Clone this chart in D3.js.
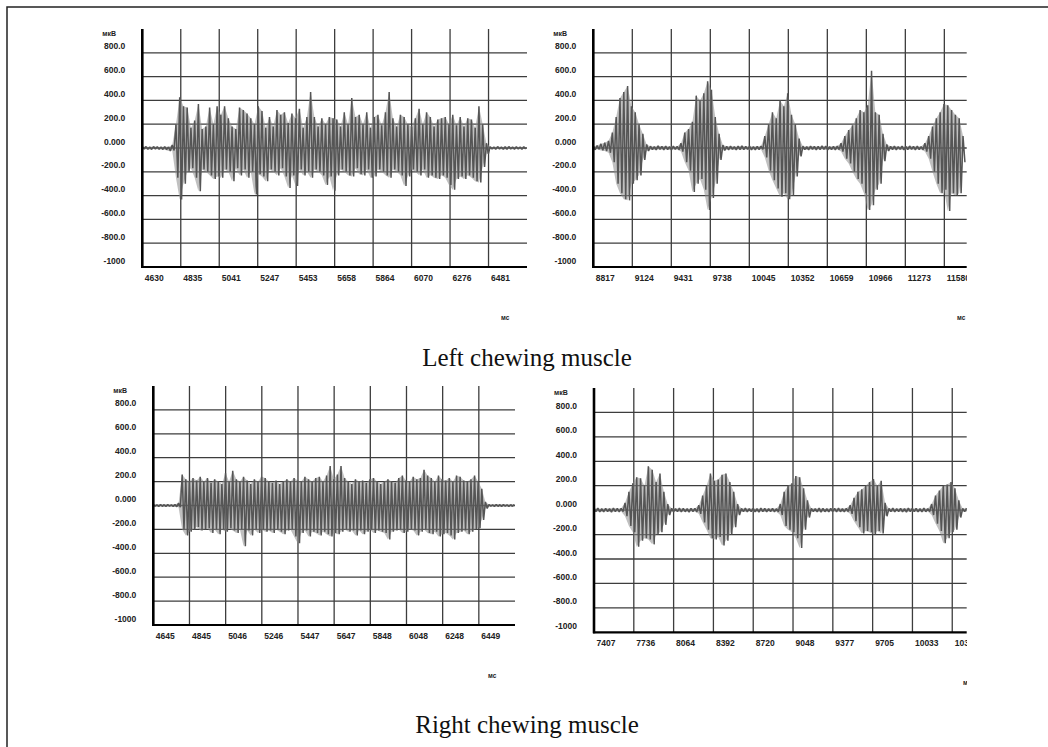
<!DOCTYPE html>
<html>
<head>
<meta charset="utf-8">
<script src="https://cdn.jsdelivr.net/npm/d3@7"></script>
<style>
  body { margin: 0; background: #fff; }
  svg { display: block; }
</style>
</head>
<body>
<svg id="chart" width="1048" height="747"></svg>
<script>
// ---- data ----
const yTicks = [-1000, -800, -600, -400, -200, 0, 200, 400, 600, 800];
const yLabels = ["-1000", "-800.0", "-600.0", "-400.0", "-200.0", "0.000", "200.0", "400.0", "600.0", "800.0"];
const yGrid = [-800, -600, -400, -200, 0, 200, 400, 600, 800];

// left muscle, continuous chewing
const p1Domain = [4630, 6687];
const p1Ticks = [4630, 4835.7, 5041.4, 5247.1, 5452.8, 5658.5, 5864.2, 6069.9, 6275.6, 6481.3];
const p1Labels = ["4630", "4835", "5041", "5247", "5453", "5658", "5864", "6070", "6276", "6481"];
const p1Start = 4630, p1Step = 20;
const p1Hi = [10,12,8,12,10,9,12,8, 25,
  200,427,350,340,170,230,370,160,180,340, 200,350,280,350,250,180,160,340,320,290,
  250,200,350,310,170,260,180,320,280,300, 210,290,250,330,170,260,470,260,180,250,
  200,260,250,240,180,300,200,420,260,280, 200,300,170,260,280,190,300,470,250,180,
  280,260,200,180,250,330,200,300,260,180, 240,250,260,200,280,190,260,180,250,240,
  170,350,200, 40, 10,8,12,9,10,12,8,10,9,11];
const p1Lo = [-8,-10,-12,-9,-10,-12,-14,-25, -20,
  -250,-432,-300,-200,-170,-250,-363,-180,-200,-230,-260,
  -240,-250,-180,-200,-280,-170,-230,-180,-250,-200,
  -390,-220,-240,-280,-180,-200,-230,-170,-240,-335,
  -230,-320,-180,-230,-200,-250,-180,-200,-230,-310,
  -240,-360,-230,-180,-200,-230,-240,-170,-220,-230,
  -180,-250,-240,-180,-200,-230,-250,-180,-200,-230,
  -320,-240,-180,-200,-230,-180,-250,-230,-250,-260,
  -230,-250,-310,-350,-260,-240,-260,-230,-250,-280,
  -290,-160, -50, -9,-11,-8,-10,-12,-9,-10,-8,-11,-9];

// left muscle, bursts
const p2Domain = [8817, 11756];
const p2Ticks = [8817, 9124, 9431, 9738, 10045, 10352, 10659, 10966, 11273, 11580];
const p2Labels = ["8817", "9124", "9431", "9738", "10045", "10352", "10659", "10966", "11273", "11580"];
const p2Start = 8817, p2Step = 30;
const p2Hi = [15,20,35,45,60, 130,260,420,470,520,350,300,200,120, 30,
  15,12,18,14,16,12,15,13, 40,130,160,220,440,400,460,560,490,260,120, 25,
  14,16,12,15,18,13,15,12,14,16, 100,200,300,250,400,350,460,280,200,80,
  15,12,16,14,13,17,15,12,14,16, 40,100,150,190,250,320,300,360,650,300,280,120, 30,
  14,16,12,15,13,17,14,15,12, 40,100,180,250,300,370,360,320,280,250,100,60];
const p2Lo = [-15,-10,-20,-25,-40, -120,-300,-380,-430,-440,-300,-270,-230,-100, -25,
  -14,-16,-12,-15,-13,-16,-12,-14, -30,-120,-190,-370,-300,-260,-350,-520,-420,-300,-100, -20,
  -15,-12,-16,-13,-14,-12,-16,-15,-13,-12, -80,-190,-270,-340,-410,-380,-430,-400,-240,-70,
  -14,-16,-12,-15,-13,-12,-16,-14,-15,-13, -30,-90,-130,-200,-260,-300,-380,-520,-480,-350,-300,-110, -25,
  -13,-15,-12,-16,-14,-12,-15,-13,-14, -30,-90,-200,-300,-380,-350,-530,-380,-400,-380,-120,-50];

// right muscle, continuous chewing
const p3Domain = [4645, 6649];
const p3Ticks = [4645, 4845.4, 5045.8, 5246.2, 5446.6, 5647, 5847.4, 6047.8, 6248.2, 6448.6];
const p3Labels = ["4645", "4845", "5046", "5246", "5447", "5647", "5848", "6048", "6248", "6449"];
const p3Start = 4645, p3Step = 20;
const p3Hi = [8,6,9,7,8,6,8, 20,
  260,220,200,230,210,240,200,230,190,220, 200,180,270,200,290,220,200,240,210,180,
  220,200,240,230,200,190,210,180,200,220, 200,230,210,200,240,220,200,230,240,200,
  250,330,220,260,330,230,200,180,220,200, 210,190,220,230,200,180,200,220,200,190,
  230,250,210,200,240,220,230,300,250,230, 200,250,220,210,230,200,250,240,210,200,
  220,250,200,140, 30, 8,6,9,7,8,6,7,8];
const p3Lo = [-6,-8,-7,-9,-6,-8,-10, -15,
  -200,-250,-220,-200,-180,-210,-200,-190,-230,-200, -240,-200,-220,-190,-210,-230,-200,-340,-210,-250,
  -200,-230,-200,-220,-210,-230,-200,-220,-240,-210, -200,-260,-315,-230,-210,-260,-220,-230,-250,-220,
  -240,-260,-230,-240,-220,-200,-220,-210,-250,-210, -240,-220,-200,-230,-210,-220,-230,-285,-220,-210,
  -200,-230,-220,-200,-210,-250,-220,-200,-230,-240, -220,-260,-240,-230,-250,-285,-230,-220,-210,-240,
  -220,-200,-190,-120, -25, -6,-8,-7,-9,-6,-8,-7,-6];

// right muscle, bursts
const p4Domain = [7407, 10480];
const p4Ticks = [7407, 7735.2, 8063.4, 8391.6, 8719.8, 9048, 9376.2, 9704.4, 10032.6, 10360.8];
const p4Labels = ["7407", "7736", "8064", "8392", "8720", "9048", "9377", "9705", "10033", "10361"];
const p4Start = 7407, p4Step = 32;
const p4Hi = [14,16,12,15,13,17,14,15, 60,150,220,270,260,200,360,330,230,300,150,50,
  15,13,16,14,12,15,14, 40,120,200,300,240,250,290,300,230,150,50,
  14,16,13,15,12,16,14,13,15,12, 50,150,200,220,280,270,180,80,
  15,13,16,14,12,15,14,16,13,15, 40,100,150,170,200,230,255,200,240,60,
  14,16,12,15,13,17,14,15,12,16,13, 50,120,160,200,210,230,180,80, 14,16];
const p4Lo = [-12,-14,-15,-12,-16,-13,-14,-12, -50,-130,-180,-300,-250,-230,-240,-280,-200,-180,-120,-40,
  -14,-12,-15,-13,-16,-12,-14, -30,-100,-160,-230,-240,-220,-290,-250,-200,-140,-40,
  -13,-15,-12,-14,-16,-13,-15,-12,-14,-13, -40,-130,-160,-180,-230,-310,-160,-60,
  -12,-14,-16,-13,-15,-12,-14,-13,-15,-12, -30,-90,-140,-190,-170,-180,-200,-170,-190,-50,
  -13,-15,-12,-14,-16,-13,-12,-15,-14,-13,-12, -40,-110,-170,-270,-230,-180,-160,-60, -13,-15];

const titles = ["Left chewing muscle", "Right chewing muscle"];
const yUnit = "мкВ", xUnit = "мс";

// ---- layout ----
const panels = [
  {domain: p1Domain, ticks: p1Ticks, labels: p1Labels, start: p1Start, step: p1Step, hi: p1Hi, lo: p1Lo,
   left: 142.3, right: 527, top: 29, bottom: 267, unitX: 501},
  {domain: p2Domain, ticks: p2Ticks, labels: p2Labels, start: p2Start, step: p2Step, hi: p2Hi, lo: p2Lo,
   left: 593.3, right: 966.7, top: 29, bottom: 267, unitX: 957},
  {domain: p3Domain, ticks: p3Ticks, labels: p3Labels, start: p3Start, step: p3Step, hi: p3Hi, lo: p3Lo,
   left: 153.3, right: 515, top: 386, bottom: 625, unitX: 488},
  {domain: p4Domain, ticks: p4Ticks, labels: p4Labels, start: p4Start, step: p4Step, hi: p4Hi, lo: p4Lo,
   left: 594, right: 966.7, top: 388, bottom: 632.3, unitX: 963}
];

const svg = d3.select("#chart");
const font = "'Liberation Sans', Arial, sans-serif";

svg.append("defs").append("clipPath").attr("id", "rightClip")
  .append("rect").attr("x", 0).attr("y", 0).attr("width", 967).attr("height", 747);

// outer frame (top and left edges only)
svg.append("path")
  .attr("d", "M7,747V7H1048")
  .attr("fill", "none")
  .attr("stroke", "#222")
  .attr("stroke-width", 1.5);

panels.forEach(function (p) {
  const x = d3.scaleLinear().domain(p.domain).range([p.left, p.right]);
  const y = d3.scaleLinear().domain([-1000, 1000]).range([p.bottom, p.top]);
  const g = svg.append("g").attr("clip-path", "url(#rightClip)");

  // grid
  g.append("g").selectAll("line").data(yGrid).join("line")
    .attr("x1", p.left).attr("x2", p.right)
    .attr("y1", d => y(d)).attr("y2", d => y(d))
    .attr("stroke", "#3d3d3d").attr("stroke-width", 1.3);
  g.append("g").selectAll("line").data(p.ticks.slice(1)).join("line")
    .attr("x1", d => x(d)).attr("x2", d => x(d))
    .attr("y1", p.top).attr("y2", p.bottom)
    .attr("stroke", "#3d3d3d").attr("stroke-width", 1.3);

  // signal envelope: peak / trough per bin, light
  const bins = p.hi.map((v, i) => ({t: p.start + i * p.step, hi: v, lo: p.lo[i]}))
    .filter(d => d.t <= p.domain[1]);
  const area = d3.area().x(d => x(d.t)).y0(d => y(d.lo)).y1(d => y(d.hi));
  g.append("path")
    .datum(bins)
    .attr("d", area)
    .attr("fill", "#8c8c8c")
    .attr("fill-opacity", 0.55);

  // trace over it: up to each peak, down to each trough
  const pts = [];
  bins.forEach(function (d) {
    pts.push([d.t, d.hi]);
    pts.push([d.t + 0.5 * p.step, d.lo]);
  });
  const line = d3.line().x(d => x(d[0])).y(d => y(d[1]));
  g.append("path")
    .datum(pts.filter(d => d[0] <= p.domain[1]))
    .attr("d", line)
    .attr("fill", "none")
    .attr("stroke", "#555")
    .attr("stroke-width", 1.5)
    .attr("stroke-linejoin", "bevel");

  // x axis labels
  const xa = g.append("g")
    .attr("transform", `translate(0,${p.bottom})`)
    .call(d3.axisBottom(x).tickValues(p.ticks).tickFormat((d, i) => p.labels[i]).tickSize(0));
  xa.select(".domain").remove();
  xa.selectAll("text")
    .attr("y", 14).attr("dy", null).attr("x", 2)
    .attr("text-anchor", "start")
    .style("font-family", font).style("font-size", "8.5px").style("font-weight", "bold")
    .attr("fill", "#222");

  // y axis labels
  const ya = g.append("g")
    .attr("transform", `translate(${p.left},0)`)
    .call(d3.axisLeft(y).tickValues(yTicks).tickFormat((d, i) => yLabels[i]).tickSize(0).tickPadding(17));
  ya.select(".domain").remove();
  ya.selectAll("text")
    .attr("dy", null).attr("y", -4)
    .style("font-family", font).style("font-size", "8.5px").style("font-weight", "bold")
    .attr("fill", "#222");

  // axis lines
  g.append("line")
    .attr("x1", p.left).attr("x2", p.left).attr("y1", p.top).attr("y2", p.bottom + 1)
    .attr("stroke", "#000").attr("stroke-width", 2.6);
  g.append("line")
    .attr("x1", p.left - 1).attr("x2", p.right).attr("y1", p.bottom).attr("y2", p.bottom)
    .attr("stroke", "#000").attr("stroke-width", 2.2);

  // units
  g.append("text")
    .attr("x", p.left - 40).attr("y", p.top + 7)
    .text(yUnit)
    .style("font-family", font).style("font-size", "7px").style("font-weight", "bold")
    .attr("fill", "#222");
  g.append("text")
    .attr("x", p.unitX).attr("y", p.bottom + 53)
    .text(xUnit)
    .style("font-family", font).style("font-size", "6.5px").style("font-weight", "bold")
    .attr("fill", "#222");
});

// captions
svg.selectAll("text.caption")
  .data(titles)
  .join("text")
  .attr("class", "caption")
  .attr("x", 527)
  .attr("y", (d, i) => i === 0 ? 366 : 733)
  .attr("text-anchor", "middle")
  .style("font-family", "'Liberation Serif', 'Times New Roman', serif")
  .style("font-size", "25px")
  .attr("fill", "#111")
  .text(d => d);
</script>
</body>
</html>
